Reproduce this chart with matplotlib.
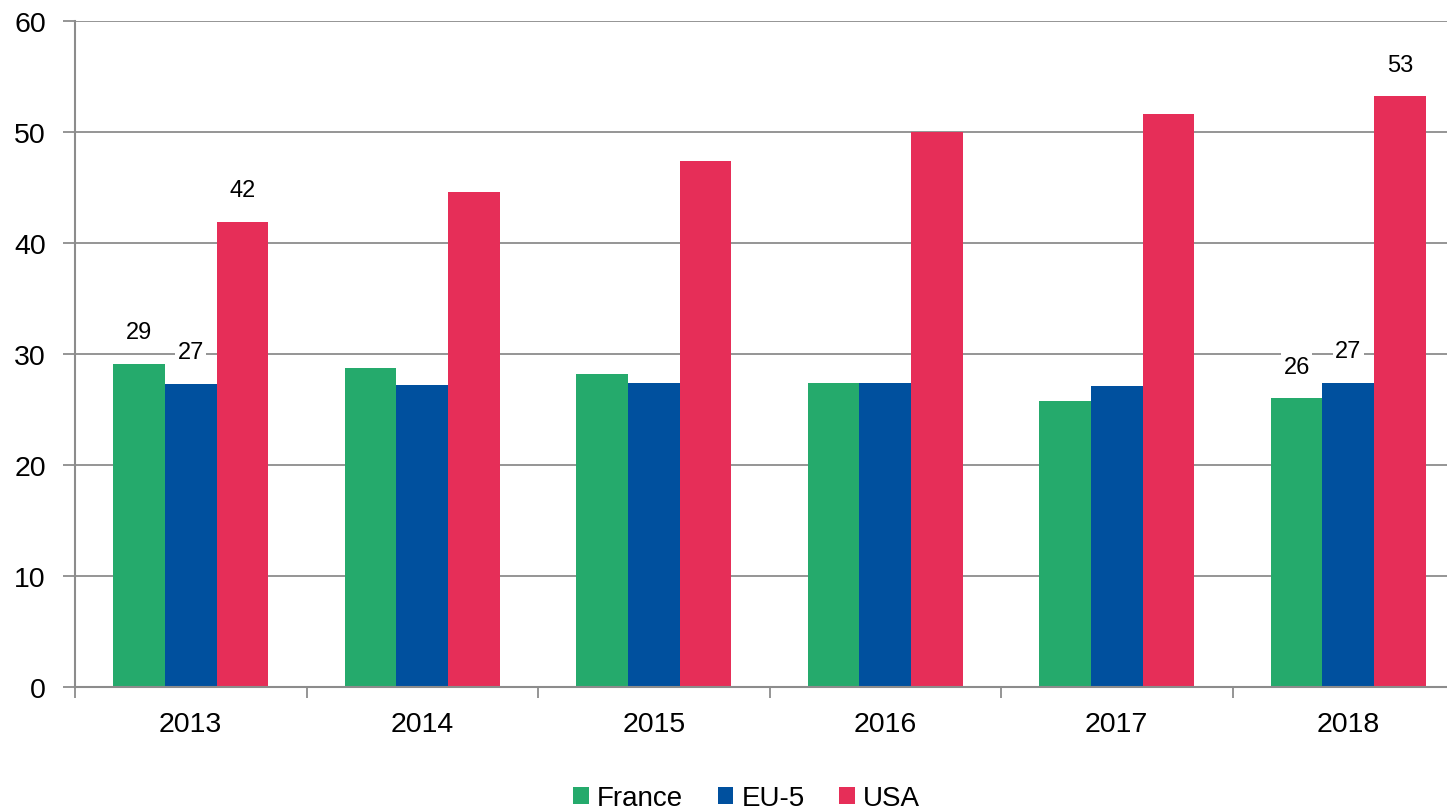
import numpy as np
import matplotlib.pyplot as plt
from matplotlib.ticker import FixedLocator

plt.rcParams['font.family'] = ['Liberation Sans', 'DejaVu Sans']

# ── DATA ───────────────────────────────────────────────────────────────────────
years  = ['2013', '2014', '2015', '2016', '2017', '2018']
france = [29.1, 28.7, 28.2, 27.4, 25.8, 26.0]
eu5    = [27.3, 27.2, 27.4, 27.4, 27.1, 27.4]
usa    = [41.9, 44.6, 47.4, 50.0, 51.6, 53.2]

series = [('France', france, '#25AA6C'),
          ('EU-5',   eu5,    '#00509E'),
          ('USA',    usa,    '#E62E58')]

# which values get a label: (series index, year index)
labelled = [(0, 0), (1, 0), (2, 0), (0, 5), (1, 5), (2, 5)]

GRID = '#8c8c8c'

# ── FIGURE ─────────────────────────────────────────────────────────────────────
fig = plt.figure(figsize=(14.47, 8.12), dpi=100)
# plot area runs slightly past the right edge of the image, as in the original
ax = fig.add_axes([75 / 1447, 124 / 812, 1389 / 1447, 666 / 812])

x = np.arange(len(years))
w = 0.2225
for i, (name, vals, col) in enumerate(series):
    ax.bar(x + (i - 1) * w, vals, width=w, color=col, label=name, zorder=2)

for si, yi in labelled:
    val = series[si][1][yi]
    ax.annotate(f'{val:.0f}', (x[yi] + (si - 1) * w, val),
                xytext=(0, 15), textcoords='offset points',
                ha='center', va='bottom', fontsize=17, zorder=4,
                bbox=dict(facecolor='white', edgecolor='none', pad=1.5))

ax.set_xlim(-0.5, len(years) - 0.5)
ax.set_ylim(0, 60)
ax.set_yticks(range(0, 61, 10))
ax.yaxis.grid(True, color=GRID, linewidth=1.3, zorder=0)
ax.set_axisbelow(True)

ax.set_xticks(x)
ax.set_xticklabels(years)
ax.tick_params(axis='x', length=0, labelsize=20.5, pad=17)
ax.xaxis.set_minor_locator(FixedLocator(np.arange(-0.5, len(years), 1)))
ax.tick_params(axis='x', which='minor', length=8, width=1.3, color=GRID)
ax.tick_params(axis='y', length=9, width=1.3, color=GRID, labelsize=20.5, pad=12)

for side in ['top', 'right']:
    ax.spines[side].set_visible(False)
for side in ['left', 'bottom']:
    ax.spines[side].set_color(GRID)
    ax.spines[side].set_linewidth(1.5)

fig.legend(loc='center', bbox_to_anchor=(0.516, 0.016), ncol=3, frameon=False,
           fontsize=20, handlelength=0.55, handleheight=0.55, handletextpad=0.3,
           columnspacing=1.25)

fig.savefig('out.png', dpi=100)
